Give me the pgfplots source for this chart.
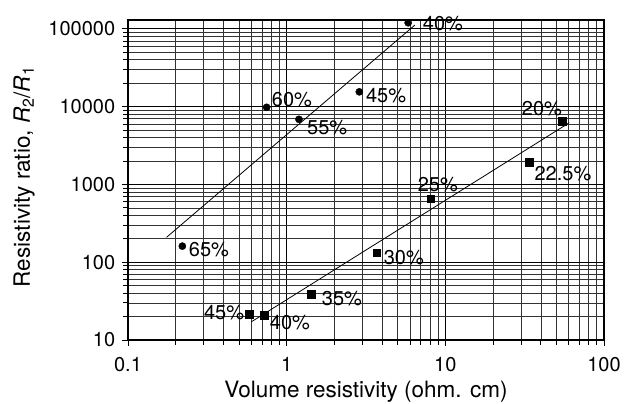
\documentclass[border=0pt]{standalone}
\usepackage{fontspec}
\setmainfont{TeX Gyre Heros}
\usepackage{pgfplots}
\pgfplotsset{compat=1.18}
\begin{document}
\fontsize{20}{24}\selectfont
\begin{tikzpicture}
\begin{axis}[
  scale only axis, width=476pt, height=320pt,
  xmode=log, ymode=log,
  xmin=0.1, xmax=100, ymin=10, ymax=130000,
  log ticks with fixed point,
  /pgf/number format/1000 sep={},
  /pgf/number format/assume math mode=true,
  grid=both,
  major grid style={black, line width=1pt},
  minor grid style={black!80, line width=0.65pt},
  axis line style={line width=1.6pt},
  tick align=outside, tick pos=left,
  major tick length=6pt, minor tick length=5pt,
  every tick/.style={black, line width=0.8pt},
  tick label style={font=\fontsize{20}{24}\selectfont},
  xticklabel style={yshift=-4pt},
  xlabel={Volume resistivity (ohm. cm)},
  ylabel={Resistivity ratio, \textit{R}\textsubscript{2}/\textit{R}\textsubscript{1}},
  xlabel style={font=\fontsize{22.5}{27}\selectfont, at={(axis description cs:0.5,-0.162)}, anchor=center},
  ylabel style={font=\fontsize{22.5}{27}\selectfont, at={(axis description cs:-0.218,0.51)}, anchor=center},
  clip=false,
]
% fitted lines
\addplot[black, line width=0.8pt, mark=none] coordinates {(0.175,209) (6.43,112000)};
\addplot[black, line width=0.8pt, mark=none] coordinates {(0.601,17.2) (60.4,6210)};
% circles
\addplot[only marks, mark=*, mark size=3.6pt, black] coordinates {
  (5.83,119700) (0.748,9800) (1.195,6870) (2.87,15500) (0.22,161)
};
% squares
\addplot[only marks, mark=square*, mark size=3.8pt, black] coordinates {
  (0.581,21.4) (0.719,20.9) (1.43,38.6) (3.69,132) (8.11,655) (33.8,1940) (54.3,6470)
};
% labels
\node[anchor=center] at (axis cs:9.66,115300) {40\%};
\node[anchor=center] at (axis cs:1.08,12160) {60\%};
\node[anchor=center] at (axis cs:1.80,5310) {55\%};
\node[anchor=center] at (axis cs:4.23,13680) {45\%};
\node[anchor=center] at (axis cs:0.324,143.6) {65\%};
\node[anchor=center] at (axis cs:0.403,22.2) {45\%};
\node[anchor=center] at (axis cs:1.049,16.5) {40\%};
\node[anchor=center] at (axis cs:2.23,33.7) {35\%};
\node[anchor=center] at (axis cs:5.48,113) {30\%};
\node[anchor=center] at (axis cs:8.97,981) {25\%};
\node[anchor=center] at (axis cs:55.1,1361) {22.5\%};
\node[anchor=center] at (axis cs:40.6,9310) {20\%};
\end{axis}
\pgfresetboundingbox
\path (current axis.south west) ++(-128pt,-64pt) rectangle ++(624pt,404pt);
\end{tikzpicture}
\end{document}
